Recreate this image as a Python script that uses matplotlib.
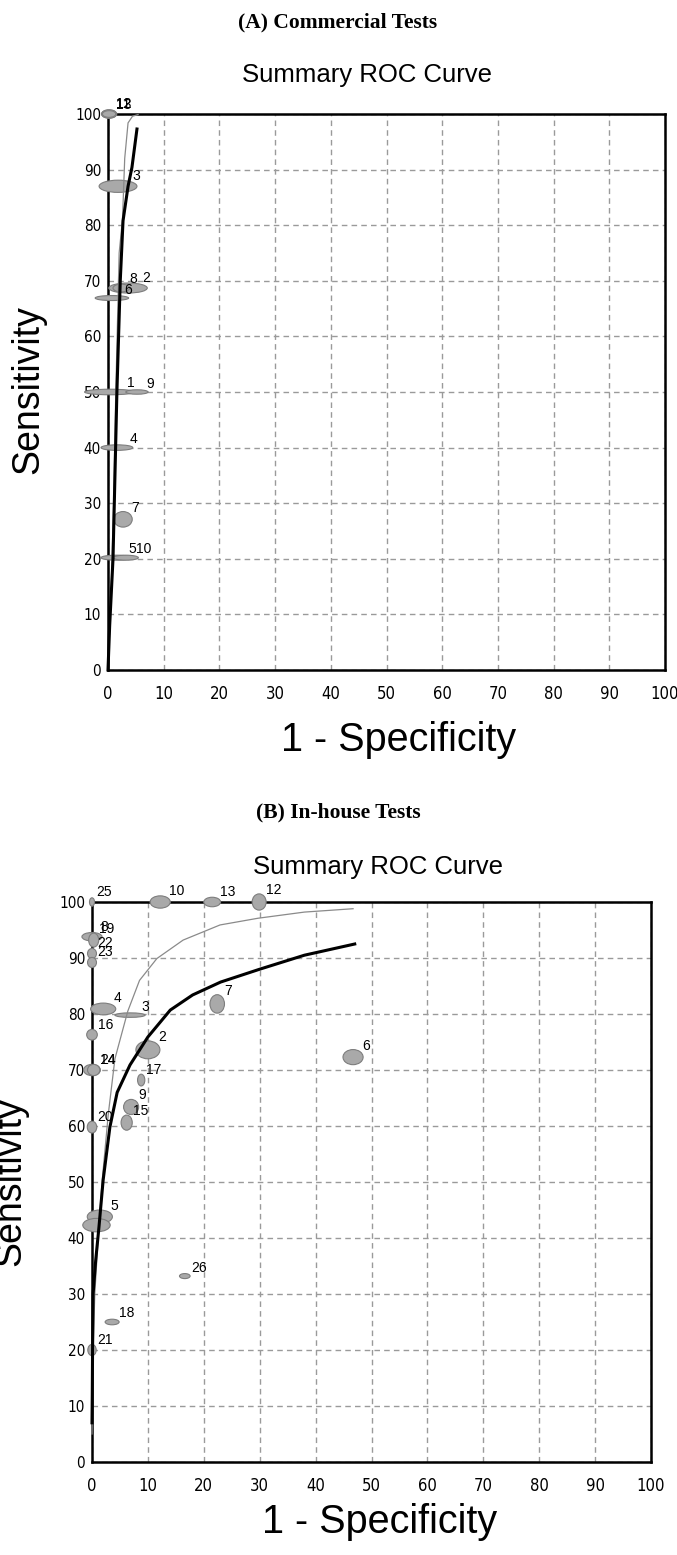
"""
Summary ROC curves - commercial vs in-house tests
Run: python plot.py
"""
import matplotlib
matplotlib.use('Agg')
import matplotlib.pyplot as plt
from matplotlib import font_manager
from matplotlib.patches import Ellipse

# ── Panel A: commercial tests (study points, % units) ─────────────────────────
a_ids = ['1', '2', '3', '4', '5', '6', '7', '8', '9', '10', '11', '12', '13']
a_fpr = [0.3, 3.6, 1.8, 1.6, 1.5, 0.7, 2.7, 2.4, 5.2, 3.2, 0.2, 0.2, 0.2]
a_sens = [50, 68.7, 87, 40, 20.2, 66.9, 27.1, 68.7, 50, 20.2, 100, 100, 100]
a_w = [9.0, 6.9, 6.8, 5.7, 5.5, 6.0, 3.3, 3.0, 4.0, 4.5, 2.7, 2.7, 2.4]
a_h = [1.0, 1.8, 2.2, 1.0, 0.9, 0.9, 2.8, 1.4, 0.8, 0.9, 1.5, 1.5, 1.2]

# SROC curves
a_blk_x = [0, 0.3, 0.9, 1.25, 1.6, 1.9, 2.2, 2.7, 3.6, 4.3, 5.2]
a_blk_y = [0, 8, 20, 35, 50, 60, 70, 80.8, 87, 90.4, 97.3]
a_gry_x = [0, 0.5, 1.0, 1.4, 2.0, 2.6, 3.0, 3.6, 4.4, 5.4]
a_gry_y = [0, 12, 30, 50, 75, 81, 92, 98.4, 99.6, 99.9]

# ── Panel B: in-house tests ───────────────────────────────────────────────────
b_ids = ['25', '10', '13', '12', '8', '19', '22', '23', '4', '3', '16', '2',
         '7', '24', '14', '17', '9', '15', '20', '6', '5', '', '26', '18', '21']
b_fpr = [0, 12.2, 21.5, 29.9, 0, 0.3, 0, 0, 2.0, 6.8, 0, 10.0,
         22.4, 0, 0.3, 8.8, 7.0, 6.2, 0, 46.7, 1.4, 0.8, 16.6, 3.6, 0]
b_sens = [100, 100, 100, 100, 93.8, 93.2, 90.8, 89.2, 80.9, 79.8, 76.3, 73.6,
          81.8, 70, 70, 68.2, 63.4, 60.6, 59.8, 72.3, 43.8, 42.3, 33.2, 25, 20]
b_w = [0.9, 3.6, 3.0, 2.5, 3.6, 1.8, 1.6, 1.6, 4.5, 5.4, 1.9, 4.3,
       2.6, 3.0, 2.2, 1.3, 2.7, 2.0, 1.7, 3.6, 4.5, 4.9, 1.9, 2.5, 1.5]
b_h = [1.5, 2.2, 1.7, 2.9, 1.5, 2.5, 1.8, 1.8, 2.1, 0.8, 1.9, 3.2,
       3.3, 2.0, 2.0, 2.1, 2.7, 2.7, 2.1, 2.7, 2.4, 2.4, 0.9, 1.0, 2.0]

b_blk_x = [0, 0.05, 0.1, 0.2, 0.66, 1.25, 2.0, 3.2, 4.5, 6.8, 10, 14, 18, 23, 30, 38, 47]
b_blk_y = [7, 12, 20, 30, 36, 42, 50.4, 59.8, 66, 70.9, 75.9, 80.7, 83.4, 85.7, 88, 90.5, 92.5]
b_gry_x = [0, 0.1, 0.2, 0.5, 1.1, 1.8, 2.9, 4.1, 6.4, 8.5, 11.6, 16.3, 22.9, 29.7, 38, 46.7]
b_gry_y = [5, 12, 20, 30, 40, 50, 62, 72, 80.5, 86, 89.9, 93.2, 95.9, 97.1, 98.2, 98.8]

ticks = list(range(0, 101, 10))

# ── Fonts ─────────────────────────────────────────────────────────────────────
SANS = 'Liberation Sans'
SERIF = 'Liberation Serif'

# narrow face for tick labels, if one is around
narrow_file = None
for key in ('LiberationSansNarrow-Regular', 'DejaVuSansCondensed.ttf',
            'RobotoCondensed-Regular', 'Roboto_Condensed'):
    hits = [f.fname for f in font_manager.fontManager.ttflist if key in f.fname]
    if hits:
        narrow_file = hits[0]
        break


def tick_font(size):
    if narrow_file:
        return font_manager.FontProperties(fname=narrow_file, size=size)
    return font_manager.FontProperties(family=SANS, size=size * 0.9)


W, H = 677, 1555
fig = plt.figure(figsize=(W / 100, H / 100), dpi=100)


def px(x, y):
    return x / W, 1 - y / H


def draw_panel(ax, ids, xs, ys, ws, hs, blk, gry):
    ax.set_xlim(0, 100)
    ax.set_ylim(0, 100)
    ax.set_xticks(ticks)
    ax.set_yticks(ticks)
    ax.grid(True, color='#9a9a9a', linestyle=(0, (4, 3)), linewidth=1.0)
    ax.set_axisbelow(True)
    ax.tick_params(axis='x', length=0, pad=11)
    ax.tick_params(axis='y', length=0, pad=5)
    for lab in ax.get_xticklabels():
        lab.set_fontproperties(tick_font(12))
    for lab in ax.get_yticklabels():
        lab.set_fontproperties(tick_font(11))
    for sp in ax.spines.values():
        sp.set_linewidth(1.8)

    for x, y, w, h in zip(xs, ys, ws, hs):
        e = Ellipse((x, y), w, h, facecolor='#a9a9a9', edgecolor='#7d7d7d',
                    linewidth=0.8, zorder=3)
        e.set_clip_on(False)
        ax.add_patch(e)

    ax.plot(gry[0], gry[1], color='#8a8a8a', lw=0.9, zorder=4, clip_on=False)
    ax.plot(blk[0], blk[1], color='black', lw=2.2, zorder=4.5, clip_on=False)

    for lab, x, y, w, h in zip(ids, xs, ys, ws, hs):
        if not lab:
            continue
        ax.annotate(lab, (x + 0.3 * w, y + 0.3 * h), xytext=(2, 0),
                    textcoords='offset points', ha='left', va='bottom',
                    fontsize=10, family=SANS, zorder=6, annotation_clip=False)


# ── Panel A ───────────────────────────────────────────────────────────────────
l, t = px(108, 114)
_, b = px(0, 670)
axA = fig.add_axes([l, b, 557 / W, t - b])
draw_panel(axA, a_ids, a_fpr, a_sens, a_w, a_h,
           (a_blk_x, a_blk_y), (a_gry_x, a_gry_y))

# ── Panel B ───────────────────────────────────────────────────────────────────
l, t = px(92, 902)
_, b = px(0, 1462)
axB = fig.add_axes([l, b, 559 / W, t - b])
draw_panel(axB, b_ids, b_fpr, b_sens, b_w, b_h,
           (b_blk_x, b_blk_y), (b_gry_x, b_gry_y))

# ── Figure texts ──────────────────────────────────────────────────────────────
fig.text(*px(338, 22), '(A) Commercial Tests', ha='center', va='center',
         family=SERIF, weight='bold', fontsize=15.5)
fig.text(*px(338, 812), '(B) In-house Tests', ha='center', va='center',
         family=SERIF, weight='bold', fontsize=15.5)

fig.text(*px(367, 75), 'Summary ROC Curve', ha='center', va='center',
         family=SANS, fontsize=18.5)
fig.text(*px(378, 867), 'Summary ROC Curve', ha='center', va='center',
         family=SANS, fontsize=18.5)

fig.text(*px(399, 740), '1 - Specificity', ha='center', va='center',
         family=SANS, fontsize=28.5)
fig.text(*px(380, 1522), '1 - Specificity', ha='center', va='center',
         family=SANS, fontsize=28.5)

fig.text(*px(28, 390), 'Sensitivity', ha='center', va='center', rotation=90,
         family=SANS, fontsize=27)
fig.text(*px(10, 1182), 'Sensitivity', ha='center', va='center', rotation=90,
         family=SANS, fontsize=27)

fig.savefig('out.png', dpi=100)
plt.close(fig)
